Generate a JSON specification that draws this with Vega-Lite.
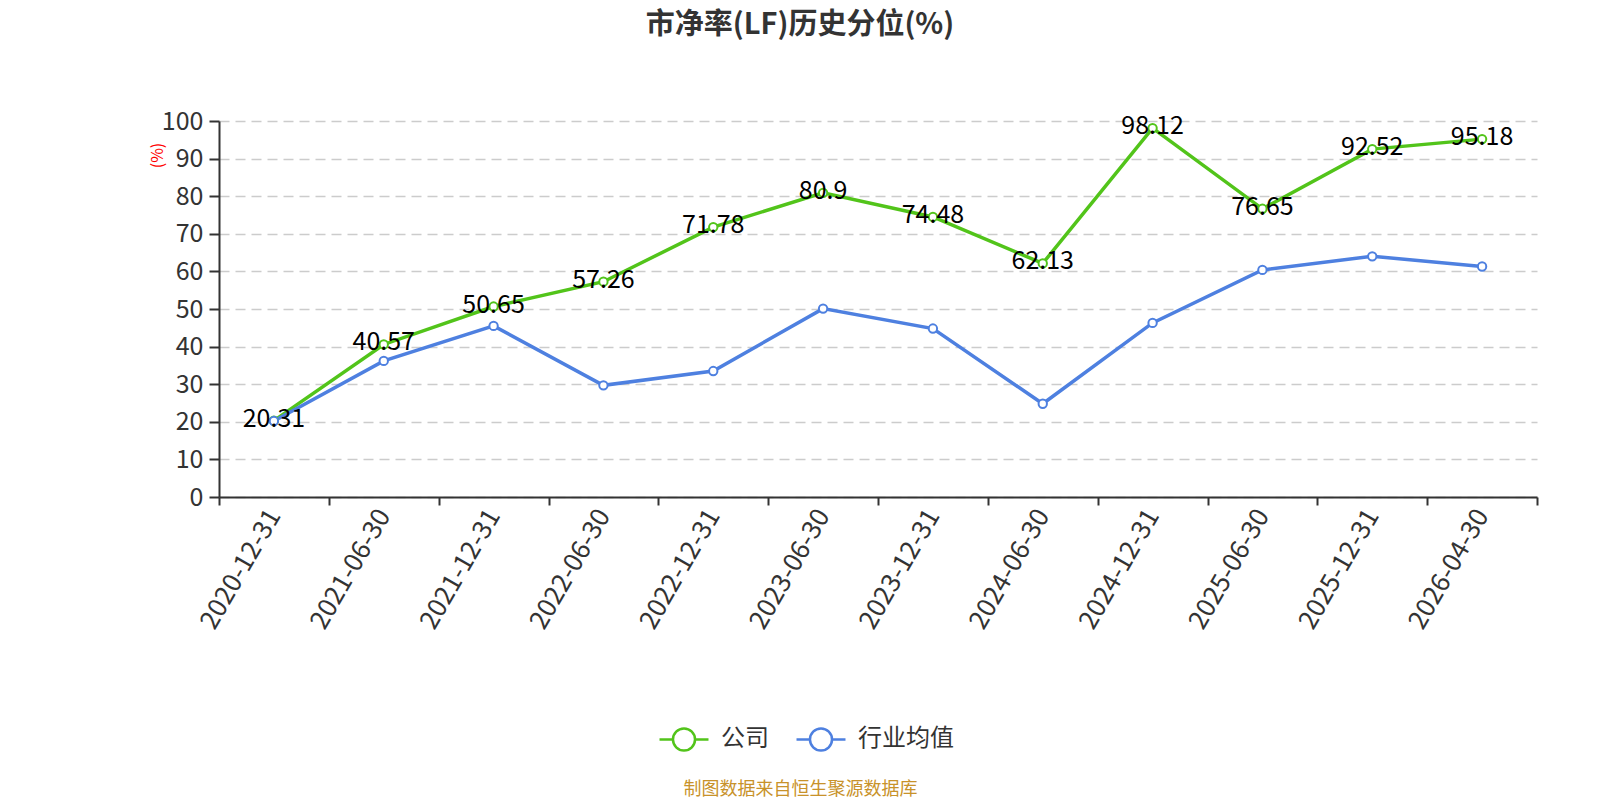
{
  "$schema": "https://vega.github.io/schema/vega-lite/v6.json",
  "width": 1318,
  "height": 376,
  "autosize": {"type": "none"},
  "padding": {"left": 219, "top": 121, "right": 63, "bottom": 303},
  "background": "white",
  "title": {
    "text": "市净率(LF)历史分位(%)",
    "anchor": "middle",
    "frame": "group",
    "dx": -78,
    "offset": 69,
    "fontSize": 29,
    "fontWeight": "bold",
    "color": "#333333",
    "font": "Noto Sans CJK SC"
  },
  "config": {
    "view": {"stroke": null},
    "font": "Noto Sans CJK SC",
    "legend": {
      "symbolType": "M-1,0L-0.45,0M0.45,0L1,0M-0.45,0A0.45,0.45 0 1,0 0.45,0A0.45,0.45 0 1,0 -0.45,0",
      "symbolSize": 2400,
      "symbolStrokeWidth": 2.5,
      "symbolFillColor": "white",
      "labelFontSize": 24,
      "labelColor": "#333333",
      "labelFont": "Noto Sans CJK SC"
    }
  },
  "data": {
    "values": [
      {"date": "2020-12-31", "series": "公司", "value": 20.31},
      {"date": "2021-06-30", "series": "公司", "value": 40.57},
      {"date": "2021-12-31", "series": "公司", "value": 50.65},
      {"date": "2022-06-30", "series": "公司", "value": 57.26},
      {"date": "2022-12-31", "series": "公司", "value": 71.78},
      {"date": "2023-06-30", "series": "公司", "value": 80.9},
      {"date": "2023-12-31", "series": "公司", "value": 74.48},
      {"date": "2024-06-30", "series": "公司", "value": 62.13},
      {"date": "2024-12-31", "series": "公司", "value": 98.12},
      {"date": "2025-06-30", "series": "公司", "value": 76.65},
      {"date": "2025-12-31", "series": "公司", "value": 92.52},
      {"date": "2026-04-30", "series": "公司", "value": 95.18},
      {"date": "2020-12-31", "series": "行业均值", "value": 20.2},
      {"date": "2021-06-30", "series": "行业均值", "value": 36.2},
      {"date": "2021-12-31", "series": "行业均值", "value": 45.5},
      {"date": "2022-06-30", "series": "行业均值", "value": 29.7},
      {"date": "2022-12-31", "series": "行业均值", "value": 33.5},
      {"date": "2023-06-30", "series": "行业均值", "value": 50.1},
      {"date": "2023-12-31", "series": "行业均值", "value": 44.8},
      {"date": "2024-06-30", "series": "行业均值", "value": 24.8},
      {"date": "2024-12-31", "series": "行业均值", "value": 46.3},
      {"date": "2025-06-30", "series": "行业均值", "value": 60.4},
      {"date": "2025-12-31", "series": "行业均值", "value": 64.0},
      {"date": "2026-04-30", "series": "行业均值", "value": 61.3}
    ]
  },
  "encoding": {
    "x": {
      "field": "date",
      "type": "ordinal",
      "sort": null,
      "scale": {"type": "band", "paddingInner": 0, "paddingOuter": 0},
      "axis": {
        "title": "制图数据来自恒生聚源数据库",
        "titleColor": "#c8922a",
        "titleFontSize": 18,
        "titleFontWeight": "normal",
        "titleFont": "Noto Sans CJK SC",
        "titleX": 581,
        "titleY": 292,
        "titleAlign": "center",
        "titleBaseline": "middle",
        "titleAngle": 0,
        "tickBand": "extent",
        "labelAngle": -60,
        "labelFontSize": 26,
        "labelColor": "#333333",
        "labelPadding": 6,
        "tickSize": 8,
        "tickColor": "#333333",
        "tickWidth": 2,
        "domainColor": "#333333",
        "domainWidth": 2,
        "grid": false
      }
    },
    "y": {
      "field": "value",
      "type": "quantitative",
      "scale": {"domain": [0, 100], "nice": false},
      "axis": {
        "title": "(%)",
        "titleColor": "red",
        "titleFontSize": 16,
        "titleFontWeight": "normal",
        "titleAngle": -90,
        "titleX": -62,
        "titleY": 34,
        "titleAlign": "center",
        "titleBaseline": "middle",
        "values": [0, 10, 20, 30, 40, 50, 60, 70, 80, 90, 100],
        "labelFontSize": 25,
        "labelColor": "#333333",
        "labelPadding": 6,
        "tickSize": 10,
        "tickColor": "#333333",
        "tickWidth": 2,
        "domainColor": "#333333",
        "domainWidth": 2,
        "grid": true,
        "gridColor": "#cccccc",
        "gridDash": [10, 6],
        "gridWidth": 1.5
      }
    },
    "color": {
      "field": "series",
      "type": "nominal",
      "scale": {"domain": ["公司", "行业均值"], "range": ["#52c41a", "#4e80e0"]},
      "legend": {
        "title": null,
        "orient": "none",
        "direction": "horizontal",
        "legendX": 439,
        "legendY": 592,
        "columnPadding": 22,
        "labelOffset": 11
      }
    }
  },
  "layer": [
    {"mark": {"type": "line", "strokeWidth": 3.5}},
    {"mark": {"type": "point", "shape": "circle", "filled": false, "fill": "white", "fillOpacity": 1, "size": 70, "strokeWidth": 2, "opacity": 1}},
    {
      "transform": [{"filter": "datum.series === '公司'"}],
      "mark": {"type": "text", "fontSize": 25, "color": "black", "baseline": "middle", "dy": -2, "font": "Noto Sans CJK SC"},
      "encoding": {"text": {"field": "value", "type": "quantitative"}, "color": {"value": "black"}}
    }
  ]
}
